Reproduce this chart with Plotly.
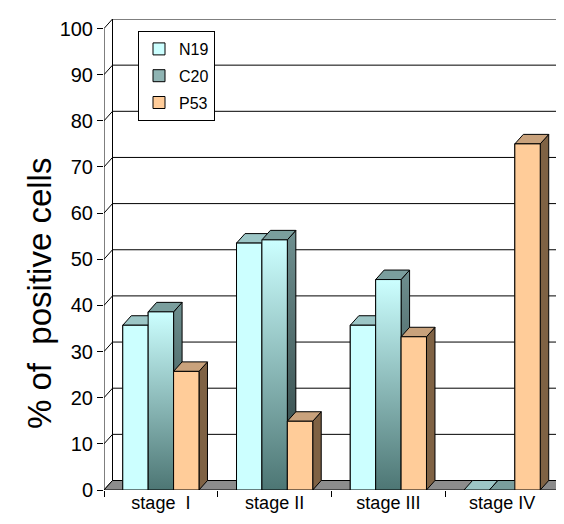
import plotly.graph_objects as go

# ---------------- data ----------------
categories = ["stage\u00a0 I", "stage II", "stage III", "stage IV"]
series_names = ["N19", "C20", "P53"]
n19_values = [35.7, 53.5, 35.7, 0]
c20_values = [38.6, 54.2, 45.6, 0]
p53_values = [25.7, 14.9, 33.2, 75.0]
y_tick_values = [0, 10, 20, 30, 40, 50, 60, 70, 80, 90, 100]

# ---------------- style ----------------
BARGAP = 0.33
N_SER = 3
BW = (1 - BARGAP) / N_SER
PX_PER_X = 113.75
PX_PER_Y = 4.615
DX = 8.5 / PX_PER_X      # oblique depth, x (category units)
DY = 9.5 / PX_PER_Y      # oblique depth, y (value units)
L, R, T, B = 96, 4, 11, 42
W, H = 564, 524
XMAX = -0.5 + (W - L - R) / PX_PER_X
YMAX = (H - T - B) / PX_PER_Y
FONT = "Liberation Sans, Arial, sans-serif"

styles = {
    "N19": dict(front="#CCFFFF", top="#9CC6C6", side="#6E9090",
                front_grad=None, side_grad=None),
    "C20": dict(front="#8FB4B3", top="#7A9E9D", side="#4E6B6B",
                front_grad=[[0, "#4D7674"], [1, "#CCFFFF"]],
                side_grad=[[0, "#2C4141"], [1, "#6E8F8F"]]),
    "P53": dict(front="#FFCC99", top="#C9A27C", side="#7F6244",
                front_grad=None, side_grad=None),
}

series_values = {"N19": n19_values, "C20": c20_values, "P53": p53_values}

fig = go.Figure()

# front faces as real bars (legend + hover)
x_pos = list(range(len(categories)))
for k, name in enumerate(series_names):
    fig.add_trace(go.Bar(
        x=x_pos, y=series_values[name], name=name, legendgroup=name,
        marker=dict(color=styles[name]["front"], line=dict(color="black", width=1)),
        hovertemplate="%{y}<extra>" + name + "</extra>",
    ))


def face(xs, ys, color, grad=None, y0=None, y1=None):
    kw = dict(
        x=xs + [xs[0]], y=ys + [ys[0]], mode="lines", fill="toself",
        fillcolor=color, line=dict(color="black", width=1),
        showlegend=False, hoverinfo="skip",
    )
    if grad is not None:
        kw["fillgradient"] = dict(type="vertical", colorscale=grad,
                                  start=y0, stop=y1)
    fig.add_trace(go.Scatter(**kw))


# 3-D faces, painted left to right so nearer bars cover earlier sides
for i in x_pos:
    for k, name in enumerate(series_names):
        v = series_values[name][i]
        st = styles[name]
        x0 = i + (k - (N_SER - 1) / 2) * BW - BW / 2
        x1 = x0 + BW
        # side face
        face([x1, x1 + DX, x1 + DX, x1], [0, DY, v + DY, v], st["side"],
             st["side_grad"], 0, v + DY if v + DY > 0 else 1)
        # top face
        face([x0, x1, x1 + DX, x0 + DX], [v, v, v + DY, v + DY], st["top"])
        # front face (repainted over previous bar's side)
        if v > 0:
            face([x0, x1, x1, x0], [0, 0, v, v], st["front"],
                 st["front_grad"], 0, v)

# ---------------- walls, floor, grid ----------------
shapes = []
xl, xr = -0.5, len(categories) - 0.5
# back wall
shapes.append(dict(type="rect", xref="x", yref="y", x0=xl + DX, x1=xr + DX,
                   y0=DY, y1=100 + DY, fillcolor="white",
                   line=dict(color="black", width=1), layer="below"))
# left wall
shapes.append(dict(type="path", xref="x", yref="y",
                   path=f"M{xl},0 L{xl + DX},{DY} L{xl + DX},{100 + DY} L{xl},100 Z",
                   fillcolor="white", line=dict(color="black", width=1), layer="below"))
# grid lines on left + back walls
for v in y_tick_values[1:-1]:
    shapes.append(dict(type="path", xref="x", yref="y",
                       path=f"M{xl},{v} L{xl + DX},{v + DY} L{xr + DX},{v + DY}",
                       line=dict(color="black", width=1), layer="below"))
# floor
shapes.append(dict(type="path", xref="x", yref="y",
                   path=f"M{xl},0 L{xr},0 L{xr + DX},{DY} L{xl + DX},{DY} Z",
                   fillcolor="#8C8C8C", line=dict(color="black", width=1), layer="below"))

fig.update_layout(
    width=W, height=H,
    margin=dict(l=L, r=R, t=T, b=B, pad=0),
    paper_bgcolor="white", plot_bgcolor="white",
    barmode="group", bargap=BARGAP, bargroupgap=0,
    font=dict(family=FONT, color="black"),
    shapes=shapes,
    showlegend=True,
    legend=dict(x=(130 - L) / (W - L - R), y=(H - B - 23) / (H - T - B),
                xanchor="left", yanchor="top",
                bgcolor="white", bordercolor="black", borderwidth=1,
                font=dict(size=16, family=FONT), itemwidth=30,
                traceorder="grouped", tracegroupgap=3),
    xaxis=dict(range=[-0.5, XMAX], tickvals=x_pos, ticktext=categories,
               ticks="", showgrid=False, zeroline=False, showline=False,
               tickfont=dict(size=18, family=FONT),
               minor=dict(tickvals=[x - 0.5 for x in range(len(categories) + 1)],
                          ticks="outside", ticklen=6, tickcolor="black", tickwidth=1,
                          showgrid=False),
               fixedrange=True),
    yaxis=dict(range=[0, YMAX], tickvals=y_tick_values, ticks="outside",
               ticklen=6, tickcolor="black", tickwidth=1,
               showgrid=False, zeroline=False, showline=False,
               tickfont=dict(size=20, family=FONT), fixedrange=True),
    annotations=[dict(text="% of  positive cells", xref="paper", yref="paper",
                      x=(31 - L) / (W - L - R), y=(H - B - 286) / (H - T - B),
                      xanchor="center", yanchor="middle", textangle=-90,
                      showarrow=False,
                      font=dict(size=33, family=FONT))],
)

fig.write_html("out.html")
